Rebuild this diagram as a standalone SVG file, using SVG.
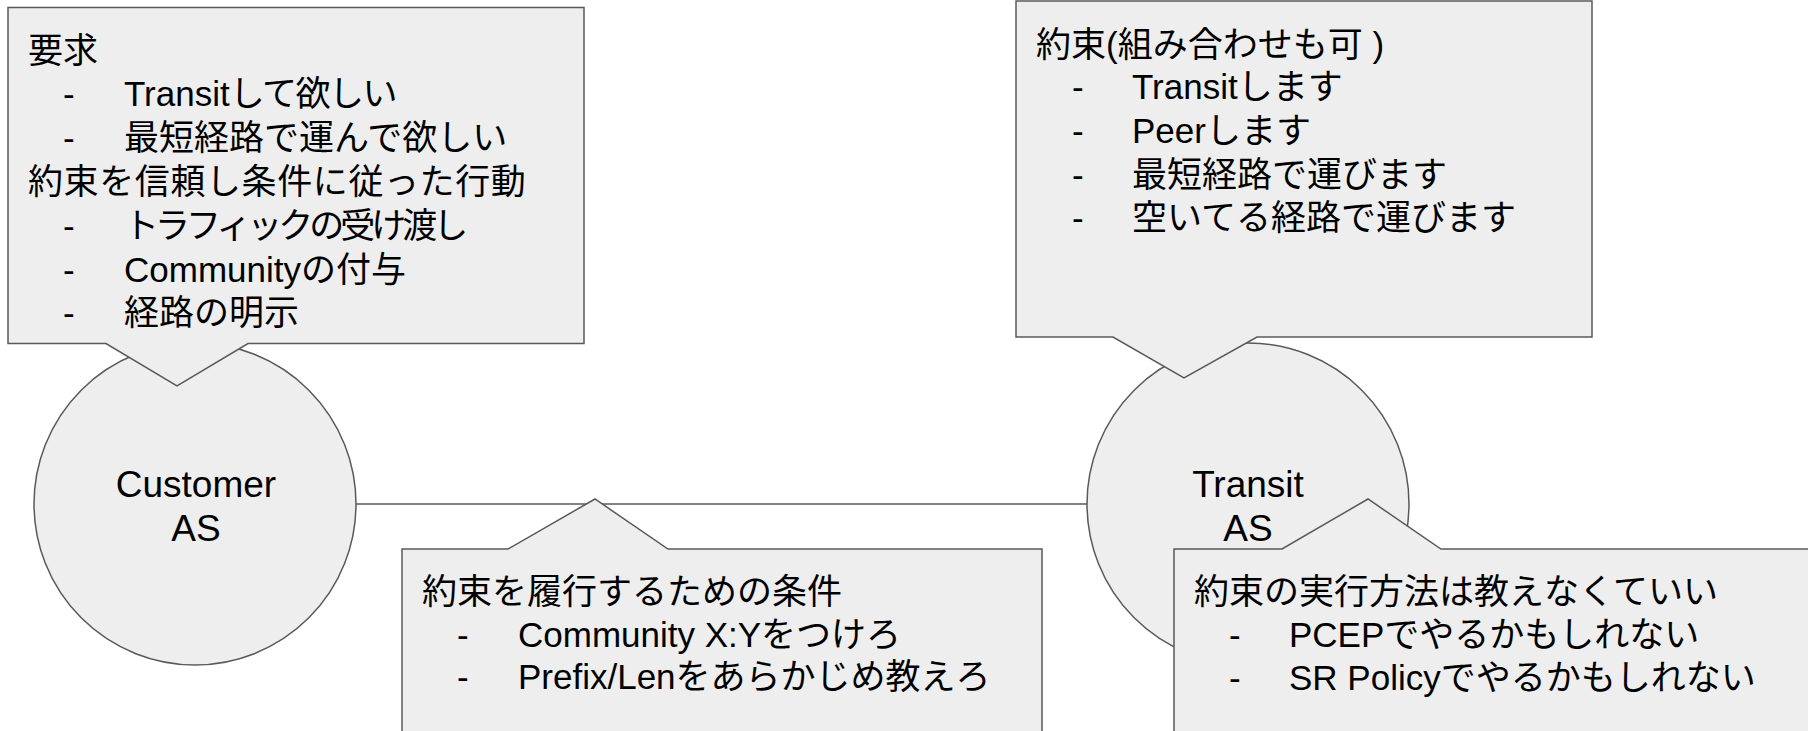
<svg xmlns="http://www.w3.org/2000/svg" width="1808" height="731" viewBox="0 0 1808 731">
<style>
  .shape { fill: #eeeeee; stroke: #595959; stroke-width: 1.5; }
  .conn { stroke: #595959; stroke-width: 1.5; fill: none; }
  text { font-family: "Liberation Sans", "Noto Sans CJK JP", sans-serif; font-size: 35px; fill: #000000; }
  .c { text-anchor: middle; font-size: 37px; }
</style>
<rect x="0" y="0" width="1808" height="731" fill="#ffffff"/>
<g id="connectors">
  <line class="conn" x1="356" y1="504" x2="1087" y2="504"/>
</g>
<g id="customer-as">
  <circle class="shape" cx="195" cy="504" r="161"/>
  <text class="c" x="196" y="497">Customer</text>
  <text class="c" x="196" y="541">AS</text>
</g>
<g id="transit-as">
  <circle class="shape" cx="1248" cy="504" r="161"/>
  <text class="c" x="1248" y="497">Transit</text>
  <text class="c" x="1248" y="541">AS</text>
</g>
<g id="callout-request">
  <path class="shape" d="M8,7.5 H584 V343.5 H248 L177,386 L106,343.5 H8 Z"/>
  <text x="28" y="63">要求</text>
  <text y="106"><tspan x="63">-</tspan><tspan x="124">Transit</tspan><tspan letter-spacing="-1.5">して欲しい</tspan></text>
  <text y="150"><tspan x="63">-</tspan><tspan x="124">最短経路で運んで欲しい</tspan></text>
  <text x="28" y="194" letter-spacing="0.6">約束を信頼し条件に従った行動</text>
  <text y="238"><tspan x="63">-</tspan><tspan x="124" letter-spacing="-4">トラフィックの受け渡し</tspan></text>
  <text y="282"><tspan x="63">-</tspan><tspan x="124">Communityの付与</tspan></text>
  <text y="325"><tspan x="63">-</tspan><tspan x="124">経路の明示</tspan></text>
</g>
<g id="callout-promise">
  <path class="shape" d="M1016,1 H1592 V337 H1257 L1184,378 L1113,337 H1016 Z"/>
  <text x="1036" y="57">約束(組み合わせも可 )</text>
  <text y="99"><tspan x="1072">-</tspan><tspan x="1132">Transitします</tspan></text>
  <text y="143"><tspan x="1072">-</tspan><tspan x="1132">Peerします</tspan></text>
  <text y="187"><tspan x="1072">-</tspan><tspan x="1132">最短経路で運びます</tspan></text>
  <text y="230"><tspan x="1072">-</tspan><tspan x="1132">空いてる経路で運びます</tspan></text>
</g>
<g id="callout-conditions">
  <path class="shape" d="M402,549 H508 L595,499 L668,549 H1042 V745 H402 Z"/>
  <text x="422" y="604">約束を履行するための条件</text>
  <text y="647"><tspan x="457">-</tspan><tspan x="518">Community X:Yをつけろ</tspan></text>
  <text y="689"><tspan x="457">-</tspan><tspan x="518">Prefix/Lenをあらかじめ教えろ</tspan></text>
</g>
<g id="callout-method">
  <path class="shape" d="M1174,549 H1282 L1368,499 L1441,549 H1820 V745 H1174 Z"/>
  <text x="1194" y="604">約束の実行方法は教えなくていい</text>
  <text y="647"><tspan x="1229">-</tspan><tspan x="1289">PCEPでやるかもしれない</tspan></text>
  <text y="690"><tspan x="1229">-</tspan><tspan x="1289">SR Policyでやるかもしれない</tspan></text>
</g>
</svg>
